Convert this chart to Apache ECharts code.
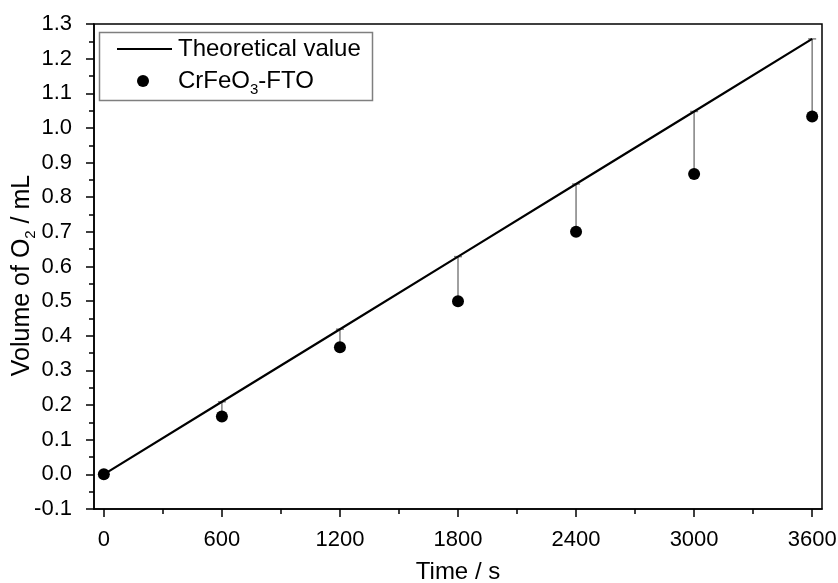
<!DOCTYPE html>
<html>
<head>
<meta charset="utf-8">
<script src="https://cdn.jsdelivr.net/npm/echarts@6/dist/echarts.min.js"></script>
<style>
  html, body { margin: 0; padding: 0; background: #fff; }
  #chart { width: 838px; height: 583px; }
</style>
</head>
<body>
<div id="chart"></div>
<script>
// Sampling times (s)
const times = [0, 600, 1200, 1800, 2400, 3000, 3600];
// Theoretical O2 volume at each sampling time (mL)
const theoretical = [0, 0.2095, 0.419, 0.6285, 0.838, 1.0475, 1.257];
// Measured O2 volume on CrFeO3-FTO (mL)
const measured = [0, 0.167, 0.367, 0.5, 0.7, 0.867, 1.033];
// Tick positions
const xMajorTicks = [0, 600, 1200, 1800, 2400, 3000, 3600];
const xMinorTicks = [300, 900, 1500, 2100, 2700, 3300];

const FONT = '"Liberation Sans", Arial, sans-serif';

const lineData = times.map((t, i) => [t, theoretical[i]]);
const pointData = times.map((t, i) => [t, measured[i]]);
const barData = times.map((t, i) => [t, measured[i], theoretical[i]]);

const chart = echarts.init(document.getElementById('chart'));

chart.setOption({
  animation: false,
  backgroundColor: '#fff',
  textStyle: { fontFamily: FONT },
  grid: {
    left: 94, right: 16, top: 24, bottom: 74,
    containLabel: false, outerBoundsMode: 'none',
    show: true, borderColor: '#000', borderWidth: 1.5,
    backgroundColor: 'transparent'
  },
  xAxis: [
    {
      type: 'value', min: -50, max: 3650,
      name: 'Time / s', nameLocation: 'middle', nameGap: 51, nameMoveOverlap: false,
      nameTextStyle: { color: '#000', fontSize: 24, fontFamily: FONT },
      axisLine: { show: true, onZero: false, lineStyle: { color: '#000', width: 1.5 } },
      axisTick: { show: true, inside: false, length: 8, customValues: xMajorTicks,
        lineStyle: { color: '#000', width: 1.5 } },
      axisLabel: { show: true, customValues: xMajorTicks, margin: 20,
        color: '#000', fontSize: 22, fontFamily: FONT,
        formatter: v => String(v) },
      splitLine: { show: false }
    },
    {
      // minor ticks on the time axis
      type: 'value', min: -50, max: 3650, position: 'bottom',
      axisLine: { show: false, onZero: false },
      axisTick: { show: true, inside: false, length: 5, customValues: xMinorTicks,
        lineStyle: { color: '#000', width: 1.5 } },
      axisLabel: { show: false },
      splitLine: { show: false }
    }
  ],
  yAxis: {
    type: 'value', min: -0.1, max: 1.3, interval: 0.1,
    name: '{a|Volume of O}{s|2}{a| / mL}',
    nameLocation: 'middle', nameGap: 56, nameRotate: 90, nameMoveOverlap: false,
    nameTextStyle: {
      color: '#000', fontFamily: FONT, padding: [0, 18, 0, 0],
      rich: {
        a: { fontSize: 25, color: '#000', fontFamily: FONT, lineHeight: 32, verticalAlign: 'middle' },
        s: { fontSize: 15, color: '#000', fontFamily: FONT, lineHeight: 32, verticalAlign: 'bottom' }
      }
    },
    axisLine: { show: true, onZero: false, lineStyle: { color: '#000', width: 1.5 } },
    axisTick: { show: true, inside: false, length: 8, lineStyle: { color: '#000', width: 1.5 } },
    minorTick: { show: true, splitNumber: 2, length: 5, lineStyle: { color: '#000', width: 1.5 } },
    axisLabel: {
      margin: 22, color: '#000', fontSize: 22, fontFamily: FONT,
      formatter: v => v.toFixed(1)
    },
    splitLine: { show: false },
    minorSplitLine: { show: false }
  },
  legend: [
    {
      data: ['Theoretical value'],
      left: 117, top: 37, icon: 'rect', itemWidth: 55, itemHeight: 2,
      padding: 0, itemGap: 0, selectedMode: false,
      textStyle: { color: '#000', fontSize: 24, fontFamily: FONT, padding: [0, 0, 0, 1] }
    },
    {
      data: ['CrFeO3-FTO'],
      left: 137, top: 69, icon: 'circle', itemWidth: 12, itemHeight: 12,
      padding: 0, itemGap: 0, selectedMode: false,
      formatter: () => '{a|CrFeO}{s|3}{a|-FTO}',
      textStyle: {
        color: '#000', fontSize: 24, fontFamily: FONT, padding: [0, 0, 0, 24],
        rich: {
          a: { fontSize: 24, color: '#000', fontFamily: FONT, lineHeight: 32, verticalAlign: 'middle' },
          s: { fontSize: 15, color: '#000', fontFamily: FONT, lineHeight: 32, verticalAlign: 'bottom' }
        }
      }
    }
  ],
  graphic: [
    {
      type: 'rect', z: 0,
      shape: { x: 99.5, y: 32.5, width: 273, height: 68 },
      style: { fill: '#fff', stroke: '#7f7f7f', lineWidth: 1.5 }
    }
  ],
  series: [
    {
      // gap between measured and theoretical volume
      name: 'gap',
      type: 'custom',
      data: barData,
      z: 1,
      renderItem: (params, api) => {
        const t = api.value(0);
        const lo = api.coord([t, api.value(1)]);
        const hi = api.coord([t, api.value(2)]);
        const cap = 4;
        return {
          type: 'group',
          children: [
            { type: 'line', shape: { x1: lo[0], y1: lo[1], x2: hi[0], y2: hi[1] },
              style: { stroke: '#808080', lineWidth: 1.5 } },
            { type: 'line', shape: { x1: hi[0] - cap, y1: hi[1], x2: hi[0] + cap, y2: hi[1] },
              style: { stroke: '#808080', lineWidth: 1.5 } }
          ]
        };
      },
      encode: { x: 0, y: [1, 2] },
      silent: true
    },
    {
      name: 'Theoretical value',
      type: 'line',
      data: lineData,
      showSymbol: false,
      symbol: 'none',
      z: 2,
      lineStyle: { color: '#000', width: 2.2 },
      itemStyle: { color: '#000' }
    },
    {
      name: 'CrFeO3-FTO',
      type: 'scatter',
      data: pointData,
      symbol: 'circle',
      symbolSize: 12,
      z: 3,
      itemStyle: { color: '#000', opacity: 1 }
    }
  ]
});
</script>
</body>
</html>
